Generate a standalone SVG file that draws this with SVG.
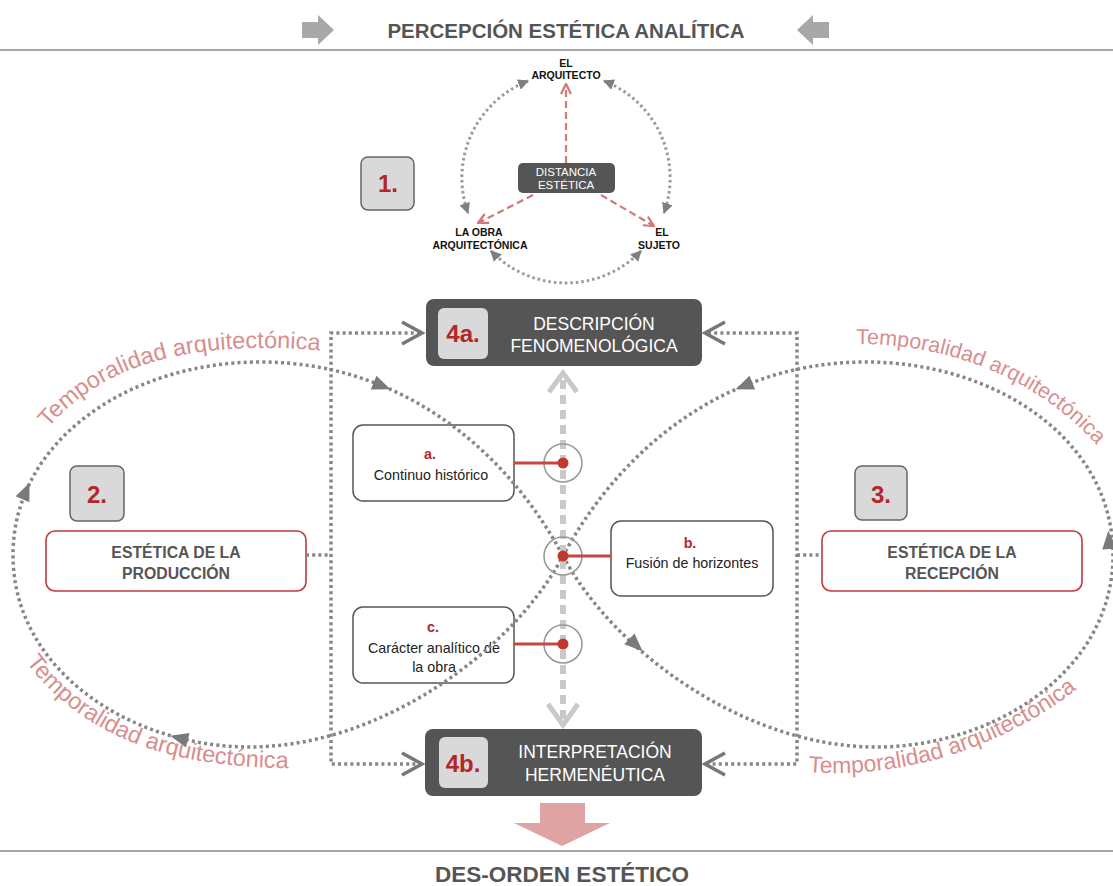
<svg xmlns="http://www.w3.org/2000/svg" xmlns:xlink="http://www.w3.org/1999/xlink" width="1113" height="886" viewBox="0 0 1113 886">
<style>
text{font-family:"Liberation Sans",Arial,Helvetica,sans-serif}
.hdr{font-size:20.5px;font-weight:bold;fill:#555}
.lab{font-size:10.5px;font-weight:bold;fill:#111;text-anchor:middle}
.dist{font-size:11.5px;fill:#fff;text-anchor:middle}
.dark{fill:#555;stroke:none}
.num{fill:#d9d9d9;stroke:#666;stroke-width:1.5}
.numt{font-size:24px;font-weight:bold;fill:#b3262a;text-anchor:middle}
.big{font-size:17.5px;fill:#fff;text-anchor:middle}
.redbox{fill:#fff;stroke:#c0393c;stroke-width:1.6}
.redt{font-size:15.8px;font-weight:bold;fill:#555;text-anchor:middle}
.sbox{fill:#fff;stroke:#555;stroke-width:1.5}
.st{font-size:14.3px;fill:#222;text-anchor:middle}
.sl{font-size:14.3px;font-weight:bold;fill:#b3262a;text-anchor:middle}
.dots{fill:none;stroke:#868686;stroke-width:3.5;stroke-dasharray:3 3.2}
.tdots{fill:none;stroke:#999;stroke-width:3;stroke-dasharray:2.5 3}
.reddash{fill:none;stroke:#d27777;stroke-width:2.2;stroke-dasharray:7 4}
.chev{fill:none;stroke:#777;stroke-width:3.5;stroke-linejoin:miter}
.lchev{fill:none;stroke:#c9c9c9;stroke-width:5}
.temp{font-size:23.5px;fill:#d88e8e}
.ring{fill:none;stroke:#9a9a9a;stroke-width:1.6}
.rline{stroke:#c94545;stroke-width:3}
.rdot{fill:#c0392f}
</style>
<defs>
<marker id="gtri" viewBox="0 0 10 10" refX="9" refY="5" markerWidth="11" markerHeight="11" markerUnits="userSpaceOnUse" orient="auto-start-reverse"><path d="M0,0 L10,5 L0,10 Z" fill="#7f7f7f"/></marker>
<marker id="rchev" viewBox="0 0 12 12" refX="11" refY="6" markerWidth="12" markerHeight="12" markerUnits="userSpaceOnUse" orient="auto"><path d="M1,1 L11,6 L1,11" fill="none" stroke="#d27777" stroke-width="2.2"/></marker>
<path id="tri" d="M9,0 L-9,-7.5 L-9,7.5 Z" fill="#7a7a7a"/>
<path id="pTL" d="M 48,428 C 100,368 175,348 262,348 C 295,348 325,350 356,355"/>
<path id="pTR" d="M 856,344 C 950,344 1040,378 1103,452"/>
<path id="pBL" d="M 26,662 C 84,738 172,770 305,768"/>
<path id="pBR" d="M 808,772 C 905,780 1012,745 1088,680"/>
</defs>

<g id="header">
<polygon points="302,22 318,22 318,15 334,30 318,45 318,38 302,38" fill="#a8a8a8"/>
<polygon points="829,22 813,22 813,15 797,30 813,45 813,38 829,38" fill="#a8a8a8"/>
<text class="hdr" x="566" y="38" text-anchor="middle">PERCEPCIÓN ESTÉTICA ANALÍTICA</text>
<line x1="0" y1="50" x2="1113" y2="50" stroke="#888" stroke-width="1.5"/>
</g>

<g id="n1"><rect class="num" x="361" y="157" width="53" height="53" rx="7"/><text class="numt" x="388" y="192">1.</text></g>
<g id="arquitecto"><text class="lab" x="566" y="67">EL</text><text class="lab" x="566" y="79">ARQUITECTO</text></g>
<g id="obra"><text class="lab" x="479" y="236">LA OBRA</text><text class="lab" x="480" y="249">ARQUITECTÓNICA</text></g>
<g id="sujeto"><text class="lab" x="662" y="236">EL</text><text class="lab" x="659" y="249">SUJETO</text></g>
<g id="distancia"><rect class="dark" x="518" y="163" width="97" height="30" rx="5"/><text class="dist" x="566" y="176">DISTANCIA</text><text class="dist" x="566" y="189">ESTÉTICA</text></g>

<g id="n4a"><rect class="dark" x="426" y="299" width="276" height="67" rx="8"/><rect x="438" y="308" width="50" height="51" rx="6" fill="#d9d9d9"/><text class="numt" x="463" y="342">4a.</text><text class="big" x="594" y="330">DESCRIPCIÓN</text><text class="big" x="594" y="352">FENOMENOLÓGICA</text></g>
<g id="n4b"><rect class="dark" x="425" y="729" width="277" height="67" rx="8"/><rect x="439" y="737" width="49" height="51" rx="6" fill="#d9d9d9"/><text class="numt" x="463" y="772">4b.</text><text class="big" x="595" y="758">INTERPRETACIÓN</text><text class="big" x="595" y="781">HERMENÉUTICA</text></g>

<g id="n2"><rect class="num" x="70" y="466" width="54" height="55" rx="7"/><text class="numt" x="97" y="503">2.</text></g>
<g id="n3"><rect class="num" x="855" y="466" width="52" height="54" rx="7"/><text class="numt" x="881" y="503">3.</text></g>
<g id="produccion"><rect class="redbox" x="46" y="531" width="260" height="60" rx="9"/><text class="redt" x="176" y="558">ESTÉTICA DE LA</text><text class="redt" x="176" y="579">PRODUCCIÓN</text></g>
<g id="recepcion"><rect class="redbox" x="822" y="531" width="260" height="60" rx="9"/><text class="redt" x="952" y="558">ESTÉTICA DE LA</text><text class="redt" x="952" y="579">RECEPCIÓN</text></g>

<g id="na"><rect class="sbox" x="353" y="425" width="161" height="76" rx="10"/><text class="sl" x="430" y="459">a.</text><text class="st" x="431" y="480">Continuo histórico</text></g>
<g id="nb"><rect class="sbox" x="611" y="521" width="162" height="75" rx="10"/><text class="sl" x="690" y="548">b.</text><text class="st" x="692" y="568">Fusión de horizontes</text></g>
<g id="nc"><rect class="sbox" x="353" y="607" width="161" height="76" rx="10"/><text class="sl" x="433" y="632">c.</text><text class="st" x="434" y="653">Carácter analítico de</text><text class="st" x="434" y="672">la obra</text></g>

<g id="footer">
<polygon points="540,803 585,803 585,823 610,823 562,846 514,823 540,823" fill="#e0a3a3"/>
<line x1="0" y1="851" x2="1113" y2="851" stroke="#888" stroke-width="1.5"/>
<text x="562" y="882" text-anchor="middle" font-size="22.5" font-weight="bold" fill="#555">DES-ORDEN ESTÉTICO</text>
</g>

<g id="connectors">
<path class="tdots" d="M 528,81 A 104 104 0 0 0 468,213" marker-start="url(#gtri)" marker-end="url(#gtri)"/>
<path class="tdots" d="M 604,81 A 104 104 0 0 1 664,213" marker-start="url(#gtri)" marker-end="url(#gtri)"/>
<path class="tdots" d="M 491,251 A 104 104 0 0 0 641,251" marker-start="url(#gtri)" marker-end="url(#gtri)"/>
<path class="reddash" d="M 566,163 V 84" marker-end="url(#rchev)"/>
<path class="reddash" d="M 533,195 L 478,223" marker-end="url(#rchev)"/>
<path class="reddash" d="M 601,195 L 654,226" marker-end="url(#rchev)"/>

<path class="dots" d="M 420,333 H 331 V 764 H 420"/>
<path class="dots" d="M 708,333 H 797 V 764 H 708"/>
<path class="dots" d="M 306,555 H 331 M 797,555 H 822"/>
<polyline class="chev" points="402,322 422,333 402,344"/>
<polyline class="chev" points="725,322 705,333 725,344"/>
<polyline class="chev" points="402,753 422,764 402,775"/>
<polyline class="chev" points="725,753 705,764 725,775"/>

<path class="dots" d="M 563,556 C 614,652 746,747 876,747 C 996,747 1113,670 1113,555 C 1113,440 996,362 866,362 C 716,362 614,460 563,556 C 512,652 380,747 250,747 C 130,747 13,670 13,555 C 13,440 130,362 260,362 C 410,362 512,460 563,556 Z"/>
<use href="#tri" transform="translate(382,386) rotate(22)"/>
<use href="#tri" transform="translate(26,491) rotate(-67)"/>
<use href="#tri" transform="translate(179,738) rotate(194)"/>
<use href="#tri" transform="translate(636,645) rotate(43)"/>
<use href="#tri" transform="translate(744,386) rotate(158)"/>
<use href="#tri" transform="translate(1109,540) rotate(-95)"/>

<line x1="563" y1="380" x2="563" y2="720" stroke="#c9c9c9" stroke-width="6" stroke-dasharray="9 6"/>
<polyline class="lchev" points="549,392 563,373 577,392"/>
<polyline class="lchev" points="548,704 563,725 578,704"/>

<circle class="ring" cx="563" cy="463" r="19"/>
<circle class="ring" cx="563" cy="556" r="19"/>
<circle class="ring" cx="563" cy="644" r="19"/>
<line class="rline" x1="514" y1="463" x2="563" y2="463"/>
<line class="rline" x1="563" y1="556" x2="611" y2="556"/>
<line class="rline" x1="514" y1="644" x2="563" y2="644"/>
<circle class="rdot" cx="563" cy="463" r="5.5"/>
<circle class="rdot" cx="563" cy="556" r="5.5"/>
<circle class="rdot" cx="563" cy="644" r="5.5"/>
</g>

<g id="labels">
<text class="temp"><textPath href="#pTL">Temporalidad arquitectónica</textPath></text>
<text class="temp" style="font-size:21.5px"><textPath href="#pTR">Temporalidad arquitectónica</textPath></text>
<text class="temp"><textPath href="#pBL">Temporalidad arquitectónica</textPath></text>
<text class="temp" style="font-size:23px"><textPath href="#pBR">Temporalidad arquitectónica</textPath></text>
</g>
</svg>
